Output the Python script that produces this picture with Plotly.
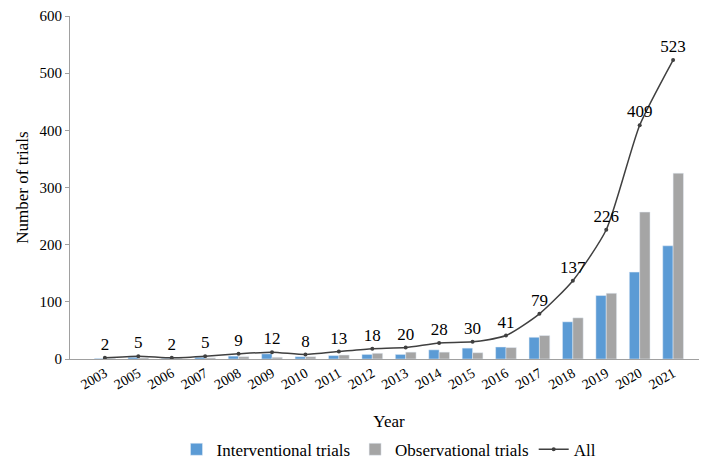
import plotly.graph_objects as go

years = ["2003", "2005", "2006", "2007", "2008", "2009", "2010", "2011", "2012", "2013",
         "2014", "2015", "2016", "2017", "2018", "2019", "2020", "2021"]
interventional = [1, 3, 1, 3, 5, 9, 4, 6, 8, 8, 16, 19, 21, 38, 65, 111, 152, 198]
observational = [1, 2, 1, 2, 4, 3, 4, 7, 10, 12, 12, 11, 20, 41, 72, 115, 257, 325]
all_trials = [2, 5, 2, 5, 9, 12, 8, 13, 18, 20, 28, 30, 41, 79, 137, 226, 409, 523]

font_family = "Liberation Serif"

fig = go.Figure()
fig.add_trace(go.Bar(x=years, y=interventional, name="Interventional trials",
                     marker=dict(color="#5B9BD5")))
fig.add_trace(go.Bar(x=years, y=observational, name="Observational trials",
                     marker=dict(color="#A5A5A5")))
fig.add_trace(go.Scatter(x=years, y=all_trials, name="All", mode="lines+markers+text",
                         line=dict(color="#404040", width=1.5, shape="spline", smoothing=0.6),
                         marker=dict(size=4, color="#404040"),
                         text=[str(v) for v in all_trials], textposition="top center",
                         textfont=dict(size=17, color="black", family=font_family)))

fig.update_layout(
    width=707, height=465,
    margin=dict(l=62, r=7, t=8, b=114, autoexpand=False),
    paper_bgcolor="white", plot_bgcolor="white",
    font=dict(family=font_family, color="black", size=14),
    barmode="group", bargap=0.38, bargroupgap=0,
    showlegend=True,
    legend=dict(orientation="h", x=0.5, xanchor="center", y=-0.212, yanchor="top",
                font=dict(size=17), traceorder="normal", itemwidth=30),
)
fig.update_xaxes(title=dict(text="Year", font=dict(size=17), standoff=23),
                 tickangle=-30, tickfont=dict(size=14),
                 showline=True, linecolor="#A0A0A0", ticks="", showgrid=False,
                 automargin=False)
fig.update_yaxes(title=dict(text="Number of trials", font=dict(size=17), standoff=6),
                 range=[0, 600], dtick=100, tickfont=dict(size=15),
                 showline=True, linecolor="#A0A0A0", ticks="outside", ticklen=4,
                 tickcolor="#A0A0A0", showgrid=False, zeroline=False, automargin=False)

fig.write_html("out.html")
